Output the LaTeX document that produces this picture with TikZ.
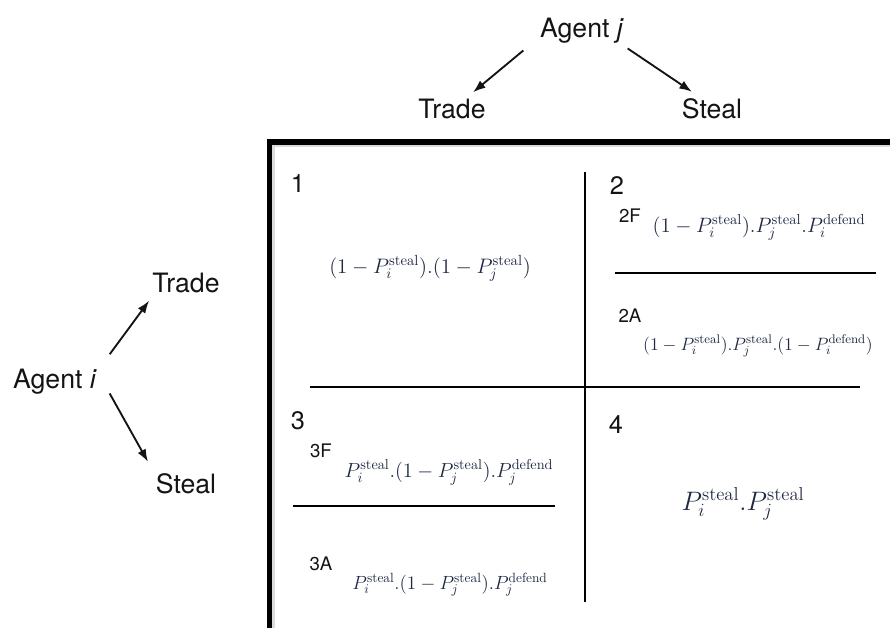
\RequirePackage{fix-cm}
\documentclass[tikz,border=0pt]{standalone}
\usepackage{fontspec}
\setsansfont{TeX Gyre Heros}
\usetikzlibrary{arrows.meta}
\definecolor{fcol}{RGB}{30,40,66}
\definecolor{tcol}{RGB}{20,20,20}
\tikzset{
  lbl/.style={font=\sffamily\fontsize{20}{24}\selectfont, text=tcol, inner sep=0pt, anchor=base},
  qnum/.style={font=\sffamily\fontsize{19}{22}\selectfont, text=tcol, inner sep=0pt, anchor=base},
  sublbl/.style={font=\sffamily\fontsize{14}{16}\selectfont, text=tcol, inner sep=0pt, anchor=base},
  frm/.style={text=fcol, inner sep=0pt, anchor=base},
  arr/.style={-{Latex[length=9.5pt,width=6.8pt]}, line width=1.4pt, draw=tcol},
  frame/.style={line width=4.2pt, draw=black, line join=miter},
  frameshadow/.style={line width=2.6pt, draw=black!14},
  divider/.style={line width=2.1pt, draw=black}
}
\newcommand{\st}{\mathrm{steal}}
\newcommand{\df}{\mathrm{defend}}
\begin{document}
\begin{tikzpicture}[x=0.75pt,y=-0.75pt]
\useasboundingbox (0,0) rectangle (890,628);
% frame
\draw[frameshadow] (273,628) -- (273,145.5) -- (890,145.5);
\draw[frame] (269.5,628) -- (269.5,142) -- (890,142);
% dividers
\draw[divider] (585,172) -- (585,602);
\draw[divider] (310,387) -- (860,387);
\draw[divider] (615,273) -- (876,273);
\draw[divider] (293,506) -- (555,506);
% agent j
\node[lbl] (aj) at (582,37) {Agent \textit{j}};
\node[lbl] (tj) at (452,118) {Trade};
\node[lbl] (sj) at (712,118) {Steal};
\draw[arr] ([shift={(-16.5,7.4)}]aj.south west) -- ([shift={(21,-6)}]tj.north);
\draw[arr] ([shift={(3.5,5.4)}]aj.south east) -- ([shift={(-20,-6)}]sj.north);
% agent i
\node[lbl] (ai) at (55,388) {Agent \textit{i}};
\node[lbl] (ti) at (186,292) {Trade};
\node[lbl] (si) at (186,493) {Steal};
\draw[arr] ([shift={(12.5,-14)}]ai.north east) -- ([shift={(-3,8)}]ti.south west);
\draw[arr] ([shift={(12.5,-0.6)}]ai.south east) -- ([shift={(-7.6,-10.9)}]si.north west);
% quadrant numbers
\node[qnum] (q1) at (298,192) {1};
\node[qnum] (q2) at (617,194) {2};
\node[qnum] (q3) at (298,429) {3};
\node[qnum] (q4) at (616,433) {4};
% sub labels
\node[sublbl] (l2F) at (630,222) {2F};
\node[sublbl] (l2A) at (630,322) {2A};
\node[sublbl] (l3F) at (321,457) {3F};
\node[sublbl] (l3A) at (321,570) {3A};
% formulas
\node[frm, font=\fontsize{15.7}{18}\selectfont] (f1) at (430,273) {$(1-P_i^{\st}).(1-P_j^{\st})$};
\node[frm, font=\fontsize{15.6}{18}\selectfont] (f2F) at (759,232) {$(1-P_i^{\st}).P_j^{\st}.P_i^{\df}$};
\node[frm, font=\fontsize{13.4}{16}\selectfont] (f2A) at (758,350) {$(1-P_i^{\st}).P_j^{\st}.(1-P_i^{\df})$};
\node[frm, font=\fontsize{15.3}{18}\selectfont] (f3F) at (449,477) {$P_i^{\st}.(1-P_j^{\st}).P_j^{\df}$};
\node[frm, font=\fontsize{14.3}{17}\selectfont] (f3A) at (450,589) {$P_i^{\st}.(1-P_j^{\st}).P_j^{\df}$};
\node[frm, font=\fontsize{20}{24}\selectfont] (f4) at (743,510) {$P_i^{\st}.P_j^{\st}$};
\end{tikzpicture}
\end{document}
